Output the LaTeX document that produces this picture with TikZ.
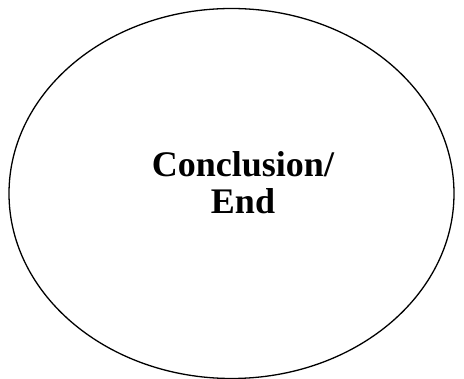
\documentclass[tikz,border=0pt]{standalone}
\usepackage{fontspec}
\setmainfont{Liberation Serif}
\usetikzlibrary{shapes.geometric}
\begin{document}
\begin{tikzpicture}[x=1pt,y=-1pt,
  endshape/.style={draw=black,line width=1.3pt,ellipse,minimum width=445pt,minimum height=370pt,inner sep=0pt},
  endtext/.style={font=\bfseries\fontsize{36}{37}\selectfont,align=center}]
\useasboundingbox (0,0) rectangle (464,379);
\clip (0,0) rectangle (464,379);
\node[endshape] (e) at (231.5,193.5) {};
\node[endtext] (t) at (243,183) {Conclusion/\\End};
\end{tikzpicture}
\end{document}
